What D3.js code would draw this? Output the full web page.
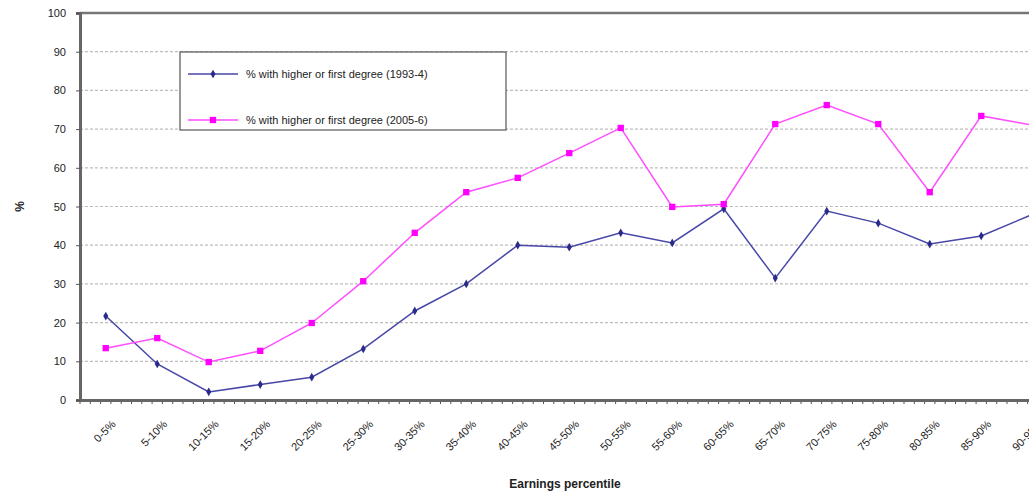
<!DOCTYPE html>
<html>
<head>
<meta charset="utf-8">
<script src="https://cdn.jsdelivr.net/npm/d3@7"></script>
<style>
  html, body { margin: 0; padding: 0; background: #fff; }
  svg { display: block; font-family: "Liberation Sans", Arial, sans-serif; }
</style>
</head>
<body>
<svg id="chart" width="1029" height="493"></svg>
<script>
// Earnings percentile bands
const categories = ["0-5%", "5-10%", "10-15%", "15-20%", "20-25%", "25-30%", "30-35%",
  "35-40%", "40-45%", "45-50%", "50-55%", "55-60%", "60-65%", "65-70%", "70-75%",
  "75-80%", "80-85%", "85-90%", "90-95%"];

// Share with a higher or first degree, by percentile band
const degree1993 = [21.7, 9.3, 2.1, 4.0, 5.9, 13.2, 23.0, 30.0, 40.0, 39.5, 43.2,
  40.6, 49.4, 31.5, 48.8, 45.7, 40.3, 42.4, 48.0];
const degree2005 = [13.4, 16.0, 9.8, 12.7, 19.9, 30.7, 43.2, 53.7, 57.4, 63.8, 70.3,
  49.9, 50.6, 71.3, 76.2, 71.3, 53.7, 73.4, 71.0];

const yTicks = [0, 10, 20, 30, 40, 50, 60, 70, 80, 90, 100];
const seriesNames = ["% with higher or first degree (1993-4)", "% with higher or first degree (2005-6)"];
const yTitle = "%";
const xTitle = "Earnings percentile";

const svg = d3.select("#chart");
const plotLeft = 80, plotTop = 13, plotBottom = 400, bandW = 51.5;
const plotRight = plotLeft + bandW * categories.length;

const x = d3.scaleBand().domain(categories).range([plotLeft, plotRight]).padding(0);
const y = d3.scaleLinear().domain([0, 100]).range([plotBottom, plotTop]);
const cx = d => x(d) + x.bandwidth() / 2;

// gridlines
svg.append("g").selectAll("line").data(yTicks.slice(1)).join("line")
  .attr("x1", plotLeft).attr("x2", 1029)
  .attr("y1", d => y(d)).attr("y2", d => y(d))
  .attr("stroke", "#bdbdbd").attr("stroke-width", 1.2)
  .attr("stroke-dasharray", "3,2");

// top border of the plot area
svg.append("line").attr("x1", plotLeft).attr("x2", 1029).attr("y1", plotTop).attr("y2", plotTop)
  .attr("stroke", "#777").attr("stroke-width", 2.5);

// y axis
const yAxis = d3.axisLeft(y).tickValues(yTicks).tickSize(4).tickPadding(10).tickFormat(d3.format("d"));
const gy = svg.append("g").attr("transform", `translate(${plotLeft},0)`).call(yAxis);
gy.select(".domain").attr("stroke", "#666").attr("stroke-width", 3);
gy.selectAll(".tick line").attr("stroke", "#555");
gy.selectAll(".tick text").attr("font-size", 11).attr("fill", "#222")
  .attr("font-family", "Liberation Sans, Arial, sans-serif");

// x axis with minor ticks inside each band
const minor = [];
categories.forEach(c => { for (let i = 0; i < 5; i++) minor.push(x(c) + i * bandW / 5); });
svg.append("g").selectAll("line").data(minor).join("line")
  .attr("x1", d => d).attr("x2", d => d).attr("y1", plotBottom).attr("y2", plotBottom + 4)
  .attr("stroke", "#555").attr("stroke-width", 1);
const xAxis = d3.axisBottom(x).tickSize(0).tickPadding(0);
const gx = svg.append("g").attr("transform", `translate(0,${plotBottom})`).call(xAxis);
gx.select(".domain").attr("stroke", "#666").attr("stroke-width", 3);
gx.selectAll(".tick text")
  .attr("font-size", 11).attr("fill", "#222")
  .attr("font-family", "Liberation Sans, Arial, sans-serif")
  .attr("text-anchor", "end")
  .attr("transform", "translate(8,22) rotate(-45)")
  .attr("dy", "0.35em");

// axis titles
svg.append("text").attr("transform", `translate(24,${(plotTop + plotBottom) / 2}) rotate(-90)`)
  .attr("text-anchor", "middle").attr("font-size", 12).attr("font-weight", "bold")
  .attr("fill", "#222").text(yTitle);
svg.append("text").attr("x", 565).attr("y", 488).attr("text-anchor", "middle")
  .attr("font-size", 12).attr("font-weight", "bold").attr("fill", "#222").text(xTitle);

// series
const line = d3.line().x((d, i) => cx(categories[i])).y(d => y(d));
const series = [
  { name: seriesNames[0], values: degree1993, color: "#4747a8", marker: "diamond" },
  { name: seriesNames[1], values: degree2005, color: "#ff4dff", marker: "square" }
];
series.forEach(s => {
  svg.append("path").datum(s.values).attr("d", line)
    .attr("fill", "none").attr("stroke", s.color).attr("stroke-width", 1.5);
  const sym = s.marker === "square" ? d3.symbolSquare : d3.symbolDiamond;
  const size = s.marker === "square" ? 40 : 22;
  svg.append("g").selectAll("path").data(s.values).join("path")
    .attr("transform", (d, i) => `translate(${cx(categories[i])},${y(d)})`)
    .attr("d", d3.symbol(sym, size))
    .attr("fill", s.marker === "square" ? "#ff00ff" : "#2a2a8a");
});

// legend
const lg = svg.append("g").attr("transform", "translate(180,52)");
lg.append("rect").attr("width", 326).attr("height", 78)
  .attr("fill", "#fff").attr("stroke", "#555").attr("stroke-width", 1.2);
series.forEach((s, i) => {
  const yy = 22 + i * 46;
  lg.append("line").attr("x1", 8).attr("x2", 58).attr("y1", yy).attr("y2", yy)
    .attr("stroke", s.color).attr("stroke-width", 1.5);
  const sym = s.marker === "square" ? d3.symbolSquare : d3.symbolDiamond;
  lg.append("path").attr("transform", `translate(33,${yy})`)
    .attr("d", d3.symbol(sym, s.marker === "square" ? 40 : 22))
    .attr("fill", s.marker === "square" ? "#ff00ff" : "#2a2a8a");
  lg.append("text").attr("x", 66).attr("y", yy).attr("dy", "0.35em")
    .attr("font-size", 11).attr("fill", "#222").text(s.name);
});
</script>
</body>
</html>
